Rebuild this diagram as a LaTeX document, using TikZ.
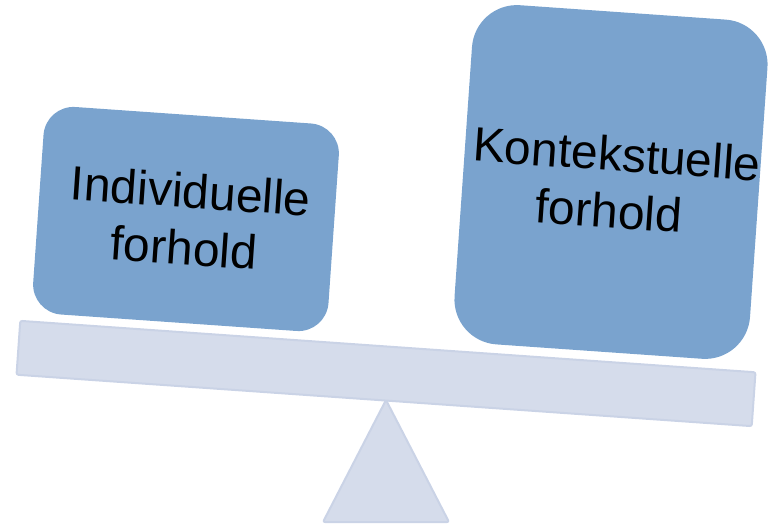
\documentclass[tikz,border=0pt]{standalone}
\usepackage{fontspec}
\setmainfont{Liberation Sans}
\definecolor{boxblue}{RGB}{122,163,206}
\definecolor{beamfill}{RGB}{213,220,235}
\definecolor{beamline}{RGB}{202,211,230}
\begin{document}
\begin{tikzpicture}[x=1pt,y=-1pt,
  weight/.style={fill=boxblue,rounded corners=#1,inner sep=0pt,align=center,
    font=\fontsize{48}{57}\selectfont,rotate=-4},
  plank/.style={fill=beamfill,draw=beamline,line width=2pt,rounded corners=2pt}]
 \useasboundingbox (0,0) rectangle (775,526);
 % fulcrum
 \coordinate (pivot) at (386,400);
 \draw[plank] (pivot) -- ++(-63,122) -- ++(126,0) -- cycle;
 % beam
 \node[plank,rotate=-4,minimum width=737pt,minimum height=54pt,inner sep=0pt] (beam) at (386,373.5) {};
 % weights
 \node[weight=30pt,minimum width=296pt,minimum height=208pt] (indiv) at (186,219) {\hspace{6pt}Individuelle\\forhold};
 \node[weight=45pt,minimum width=296pt,minimum height=340pt] (kontekst) at (611,182) {\hspace{8pt}Kontekstuelle\\forhold};
\end{tikzpicture}
\end{document}
